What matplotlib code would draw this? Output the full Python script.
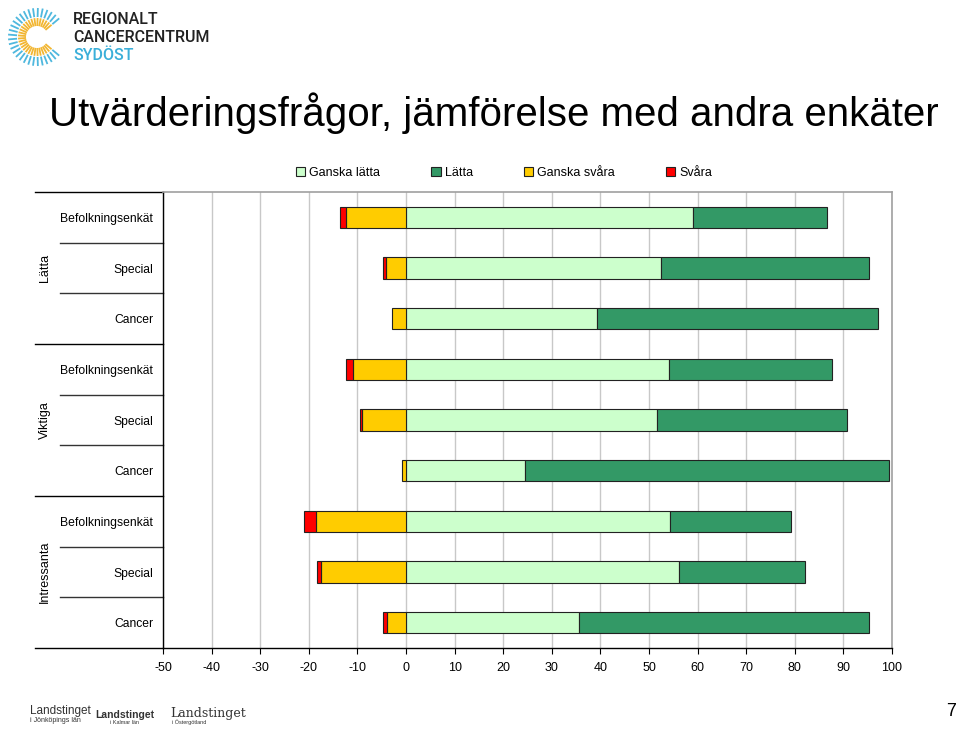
import numpy as np
import matplotlib
matplotlib.use("Agg")
import matplotlib.pyplot as plt
from matplotlib.patches import Patch

plt.rcParams['font.family'] = ['Liberation Sans', 'DejaVu Sans']

# ---- data ----
groups = ["Lätta", "Viktiga", "Intressanta"]
categories = ["Befolkningsenkät", "Special", "Cancer"] * 3
ganska_latta = [59.0, 52.4, 39.3, 54.2, 51.6, 24.5, 54.4, 56.2, 35.6]
latta = [27.7, 42.9, 57.9, 33.4, 39.2, 74.8, 24.8, 25.8, 59.7]
ganska_svara = [12.3, 4.2, 2.9, 11.0, 9.0, 0.8, 18.5, 17.4, 3.85]
svara = [1.2, 0.55, 0.0, 1.4, 0.55, 0.0, 2.4, 0.9, 0.9]
series_names = ["Ganska lätta", "Lätta", "Ganska svåra", "Svåra"]
xticks = list(range(-50, 101, 10))

colors = {"Ganska lätta": "#CCFFCC", "Lätta": "#339966",
          "Ganska svåra": "#FFCC00", "Svåra": "#FF0000"}

W, H = 959, 730
fig = plt.figure(figsize=(W / 100, H / 100), dpi=100)
L, R, T, B = 163, 892, 192, 648
ax = fig.add_axes([L / W, 1 - B / H, (R - L) / W, (B - T) / H])

y = np.arange(len(categories)) + 0.5
gl = np.array(ganska_latta)
la = np.array(latta)
gs = np.array(ganska_svara)
sv = np.array(svara)
sv_plot = np.where(sv > 0, sv, np.nan)
h = 0.42
ec = "#222222"
lw = 0.8
ax.barh(y, gl, left=0, height=h, color=colors["Ganska lätta"], edgecolor=ec, linewidth=lw, zorder=3)
ax.barh(y, la, left=gl, height=h, color=colors["Lätta"], edgecolor=ec, linewidth=lw, zorder=3)
ax.barh(y, -gs, left=0, height=h, color=colors["Ganska svåra"], edgecolor=ec, linewidth=lw, zorder=3)
ax.barh(y, -sv_plot, left=-gs, height=h, color=colors["Svåra"], edgecolor=ec, linewidth=lw, zorder=3)

ax.set_xlim(-50, 100)
ax.set_ylim(len(categories), 0)
ax.set_xticks(xticks)
ax.set_xticklabels([str(t) for t in xticks], fontsize=9)
ax.xaxis.grid(True, color="#C8C8C8", linewidth=1.0, zorder=0)
ax.set_axisbelow(True)
ax.tick_params(axis='x', length=4, width=0.8, direction='out', pad=6, color='black')
ax.set_yticks(y)
ax.set_yticklabels(categories, fontsize=8.7)
ax.tick_params(axis='y', length=0, pad=7)
for s in ["top", "right"]:
    ax.spines[s].set_color("#A0A0A0")
    ax.spines[s].set_linewidth(1.2)
for s in ["left", "bottom"]:
    ax.spines[s].set_color("black")
    ax.spines[s].set_linewidth(1.0)

# separators in label area
tr = ax.get_yaxis_transform()
x_outer = (35 - L) / (R - L)
x_inner = (60 - L) / (R - L)
n = len(categories)
for k in range(n + 1):
    x0 = x_outer if k % 3 == 0 else x_inner
    ax.plot([x0, 0], [k, k], transform=tr, color="black" if k % 3 == 0 else "#333333",
            linewidth=1.0, clip_on=False)

# group labels
for gi, g in enumerate(groups):
    yc = gi * 3 + 1.5
    ax.text((45 - L) / (R - L), yc, g, transform=tr, rotation=90,
            ha='center', va='center', fontsize=9)

# legend
handles = [Patch(facecolor=colors[s], edgecolor=ec, linewidth=0.8) for s in series_names]
fig.legend(handles, series_names, loc='center', bbox_to_anchor=(504 / W, 1 - 173 / H),
           ncol=4, frameon=False, fontsize=9, handlelength=0.75, handleheight=0.75,
           handletextpad=0.3, columnspacing=4.1)

# title
fig.text(494 / W, 1 - 113 / H, "Utvärderingsfrågor, jämförelse med andra enkäter",
         ha='center', va='center', fontsize=29)

# logo (decorative)
cx, cy = 37, 37
lax = fig.add_axes([0, 1 - 75 / H, 75 / W, 75 / H])
lax.set_xlim(0, 75); lax.set_ylim(75, 0); lax.axis('off')
for ang in np.linspace(40, 320, 30):
    a = np.deg2rad(ang)
    dx, dy = np.cos(a), -np.sin(a)
    lax.plot([cx + 20 * dx, cx + 29 * dx], [cy + 20 * dy, cy + 29 * dy], color="#4FB8DE", lw=1.3, solid_capstyle='butt')
    lax.plot([cx + 11 * dx, cx + 19 * dx], [cy + 11 * dy, cy + 19 * dy], color="#F2B632", lw=1.3, solid_capstyle='butt')
logo_font = ['Roboto', 'DejaVu Sans']
fig.text(73 / W, 1 - 19 / H, "REGIONALT", fontsize=11.5, family=logo_font, weight='medium', color="#222222", va='center')
fig.text(73 / W, 1 - 37 / H, "CANCERCENTRUM", fontsize=11.5, family=logo_font, weight='medium', color="#222222", va='center')
fig.text(73 / W, 1 - 55 / H, "SYDÖST", fontsize=11.5, family=logo_font, weight='medium', color="#3AAFD9", va='center')

# bottom logos
fig.text(30 / W, 1 - 711 / H, "Landstinget", fontsize=8.5, color="#333333", va='center')
fig.text(30 / W, 1 - 721 / H, "i Jönköpings län", fontsize=5, color="#333333", va='center')
fig.text(95 / W, 1 - 715 / H, "Landstinget", fontsize=7.5, weight='bold', color="#333333", va='center')
fig.text(110 / W, 1 - 723 / H, "i Kalmar län", fontsize=4, color="#333333", va='center')
fig.text(170 / W, 1 - 713 / H, "Landstinget", fontsize=9, family='DejaVu Serif', color="#333333", va='center')
fig.text(172 / W, 1 - 722 / H, "i Östergötland", fontsize=4, color="#333333", va='center')

fig.text(951 / W, 1 - 711 / H, "7", fontsize=13, ha='center', va='center')

fig.savefig("out.png", dpi=100)
